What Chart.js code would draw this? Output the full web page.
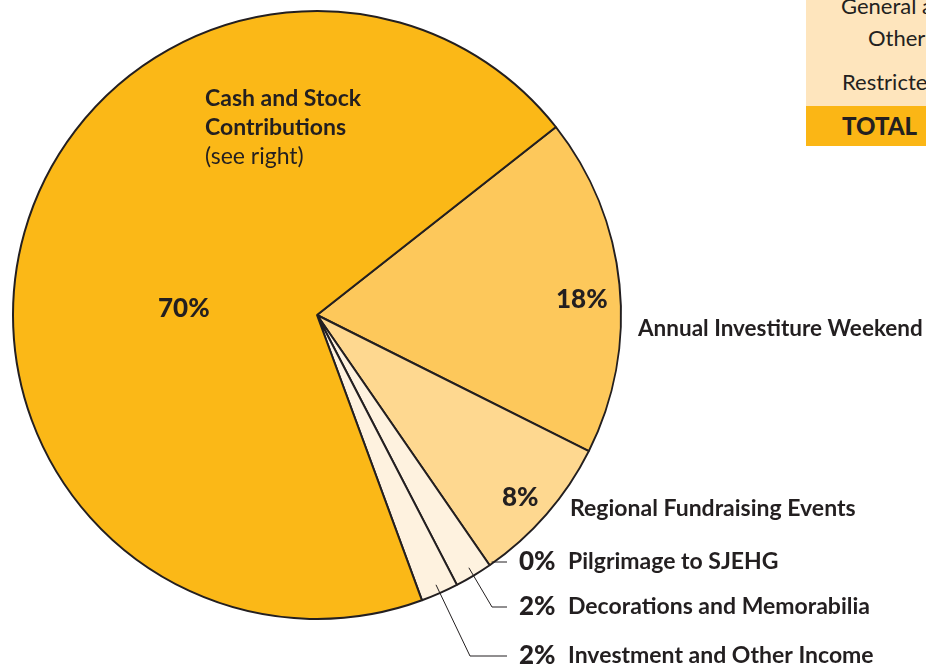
<!DOCTYPE html>
<html>
<head>
<meta charset="utf-8">
<script src="https://cdn.jsdelivr.net/npm/chart.js@4.4.1/dist/chart.umd.min.js"></script>
<style>
  html, body { margin:0; padding:0; width:926px; height:669px; overflow:hidden; background:#fff; }
  #wrap { position:absolute; left:0; top:0; width:926px; height:669px; }
  .tbl { position:absolute; left:806px; top:0; width:130px; height:106px; background:#FEE5BD; }
  .tot { position:absolute; left:806px; top:106px; width:130px; height:40px; background:#FBB615; }
  .t { position:absolute; font-family: Lato, sans-serif; font-size:22px; color:#231F20; white-space:nowrap; line-height:1; }
</style>
</head>
<body>
<div class="tbl"></div>
<div class="tot"></div>
<div class="t" style="left:841px; top:-5px;">General and</div>
<div class="t" style="left:868px; top:27px;">Other</div>
<div class="t" style="left:842px; top:71px;">Restricted</div>
<div class="t" style="left:842px; top:114px; font-weight:900; font-size:24px;">TOTAL</div>
<div id="wrap"><canvas id="c"></canvas></div>
<script>
const categories = ["Annual Investiture Weekend", "Regional Fundraising Events", "Pilgrimage to SJEHG", "Decorations and Memorabilia", "Investment and Other Income", "Cash and Stock Contributions"];
const values = [18, 8, 0, 2, 2, 70];
const percentLabels = ["18%", "8%", "0%", "2%", "2%", "70%"];
const colors = ["#FDC85B", "#FED890", "#FEF2DF", "#FEF2DF", "#FEF2DF", "#FBB817"];

const INK = "#231F20";
const labelPlugin = {
  id: "labels",
  afterDraw(chart) {
    const ctx = chart.ctx;
    const arcs = chart.getDatasetMeta(0).data;
    const cx = arcs[0].x, cy = arcs[0].y;
    ctx.save();
    ctx.fillStyle = INK;
    ctx.strokeStyle = INK;
    ctx.textBaseline = "middle";
    ctx.textAlign = "left";
    const pct = "900 26px Lato, sans-serif";
    const bold = "bold 23px Lato, sans-serif";
    const reg = "23px Lato, sans-serif";
    function txt(s, x, y, f) { ctx.font = f; ctx.fillText(s, x, y); }
    txt(percentLabels[5], cx - 159, cy - 6, pct);
    txt("Cash and Stock", cx - 112, cy - 216, bold);
    txt("Contributions", cx - 112, cy - 187, bold);
    txt("(see right)", cx - 112, cy - 158, reg);
    txt(percentLabels[0], cx + 239, cy - 15, pct);
    txt(categories[0], cx + 321, cy + 14, "bold 22.5px Lato, sans-serif");
    txt(percentLabels[1], cx + 185, cy + 183, pct);
    txt(categories[1], cx + 253, cy + 194, bold);
    const rows = [[2, cy + 247], [3, cy + 292], [4, cy + 341]];
    ctx.lineWidth = 1;
    rows.forEach(([i, y], k) => {
      const a = arcs[i];
      const mid = (a.startAngle + a.endAngle) / 2;
      const r = k === 0 ? a.outerRadius : a.outerRadius * 0.97;
      const sx = cx + Math.cos(mid) * r, sy = cy + Math.sin(mid) * r;
      ctx.beginPath();
      const ex = cx + 190;
      if (k === 0) {
        ctx.moveTo(sx + 2, y);
        ctx.lineTo(ex, y);
      } else {
        ctx.moveTo(sx, sy);
        const elx = k === 1 ? cx + 175 : cx + 153;
        ctx.lineTo(elx, y);
        ctx.lineTo(ex, y);
      }
      ctx.stroke();
      txt(percentLabels[i], cx + 202, y, pct);
      txt(categories[i], cx + 251, y, bold);
    });
    ctx.restore();
  }
};

new Chart(document.getElementById("c"), {
  type: "pie",
  data: {
    labels: categories,
    datasets: [{
      data: values,
      backgroundColor: colors,
      borderColor: INK,
      borderWidth: 2
    }]
  },
  options: {
    responsive: true,
    maintainAspectRatio: false,
    animation: false,
    rotation: 51.8,
    layout: { padding: { left: 12, right: 304, top: 10, bottom: 49 } },
    plugins: { legend: { display: false }, tooltip: { enabled: false } }
  },
  plugins: [labelPlugin]
});
</script>
</body>
</html>
